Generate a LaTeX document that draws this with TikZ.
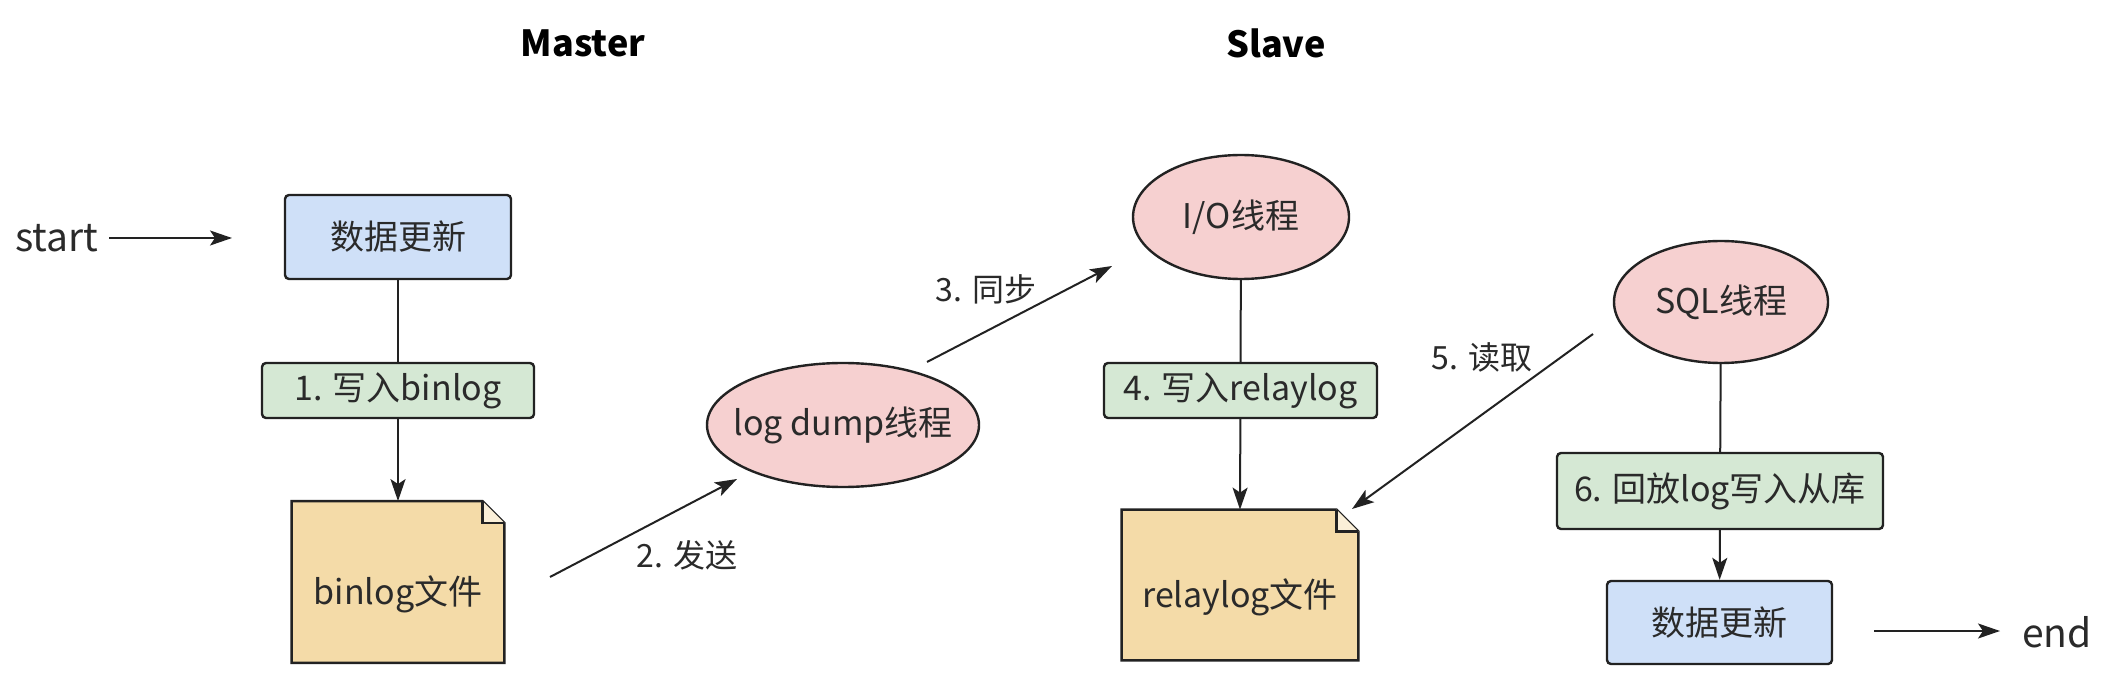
\documentclass[tikz,border=0pt]{standalone}
\usepackage{fontspec}
\setmainfont{Noto Sans CJK SC}
\usetikzlibrary{arrows.meta,shapes.geometric}
\definecolor{bluef}{HTML}{CFE0F8}
\definecolor{greenf}{HTML}{D5E8D4}
\definecolor{pinkf}{HTML}{F6D0D0}
\definecolor{docf}{HTML}{F4DBA8}
\definecolor{edge}{HTML}{222222}
\definecolor{txt}{HTML}{2A2A2A}
\tikzset{
  bluebox/.style={draw=edge, line width=1.2pt, fill=bluef, rounded corners=2pt, inner sep=0pt, font=\fontsize{17pt}{20pt}\selectfont, text=txt},
  greenbox/.style={draw=edge, line width=1.2pt, fill=greenf, rounded corners=2pt, inner sep=0pt, font=\fontsize{17pt}{20pt}\selectfont, text=txt},
  thread/.style={ellipse, draw=edge, line width=1.2pt, fill=pinkf, inner sep=0pt, font=\fontsize{17pt}{20pt}\selectfont, text=txt},
  docnode/.style={inner sep=0pt, font=\fontsize{17pt}{20pt}\selectfont, text=txt},
  docshape/.style={draw=edge, line width=1.2pt, fill=docf, line join=miter},
  lbl/.style={font=\fontsize{16pt}{19pt}\selectfont, text=txt},
  big/.style={font=\fontsize{19.5pt}{24pt}\selectfont, text=txt},
  head/.style={font=\fontsize{18pt}{22pt}\selectfont\bfseries, text=black},
  conn/.style={draw=edge, line width=1pt},
  arr/.style={conn, -{Stealth[length=11pt, width=7.5pt, inset=2.5pt]}}
}
\begin{document}
\begin{tikzpicture}[x=0.5pt, y=-0.5pt]
\useasboundingbox[fill=white] (0,0) rectangle (2114,678);

% headers
\node[head] (master) at (583,43) {Master};
\node[head] (slave) at (1276,43) {Slave};

% master side
\node[big] (startlbl) at (57,238) {start};
\coordinate (s1) at (109,238);
\coordinate (s2) at (232,238);
\node[bluebox, minimum width=113pt, minimum height=42pt] (upd1) at (398,237) {数据更新};
\node[greenbox, minimum width=136pt, minimum height=27.5pt] (w1) at (398,390.5) {1. 写入binlog};
\node[docnode, minimum width=106pt, minimum height=80.5pt] (binlog) at (398,582) {};

% log dump
\node[thread, minimum width=136pt, minimum height=62pt] (dump) at (843,425) {\makebox[0pt]{log dump线程}};

% slave side
\node[thread, minimum width=108pt, minimum height=62pt] (io) at (1241,217) {\makebox[0pt]{I/O线程}};
\node[greenbox, minimum width=136.5pt, minimum height=27.5pt] (w4) at (1240.5,390.5) {4. 写入relaylog};
\node[docnode, minimum width=118pt, minimum height=75pt] (relay) at (1240,585) {};

\node[thread, minimum width=107pt, minimum height=61pt] (sql) at (1721,302) {\makebox[0pt]{SQL线程}};
\node[greenbox, minimum width=163pt, minimum height=38pt] (w6) at (1720,491) {6. 回放log写入从库};
\node[bluebox, minimum width=112.5pt, minimum height=41.5pt] (upd2) at (1719.5,622.5) {数据更新};
\node[big] (endlbl) at (2057,632) {end};
\coordinate (e1) at (1874,631);
\coordinate (e2) at (2000,631);

% documents
\foreach \d/\t in {binlog/binlog文件, relay/relaylog文件}{
  \draw[docshape] (\d.north west) -- ([xshift=-11pt]\d.north east) -- ([yshift=-11pt]\d.north east) -- (\d.south east) -- (\d.south west) -- cycle;
  \draw[docshape, fill=docf!45!white] ([xshift=-11pt]\d.north east) -- ([xshift=-11pt,yshift=-11pt]\d.north east) -- ([yshift=-11pt]\d.north east);
  \node[docnode] at ([yshift=-6pt]\d.center) {\t};
}

% connectors
\draw[arr] (s1) -- (s2);
\draw[arr] (e1) -- (e2);
\draw[conn] (upd1) -- (w1);
\draw[arr] (w1) -- (binlog.north);
\draw[conn] (io) -- (w4);
\draw[arr] (w4) -- (relay.north);
\draw[conn] (sql) -- (w6);
\draw[arr] (w6) -- (upd2);

\coordinate (a2s) at (550,577);
\coordinate (a2e) at (737,479);
\coordinate (a3s) at (927,362);
\coordinate (a3e) at (1112,266);
\coordinate (a5s) at (1593,334);
\coordinate (a5e) at (1352,509);
\draw[arr] (a2s) -- (a2e);
\draw[arr] (a3s) -- (a3e);
\draw[arr] (a5s) -- (a5e);

\node[lbl] (l2) at (687,555) {2. 发送};
\node[lbl] (l3) at (986,289) {3. 同步};
\node[lbl] (l5) at (1482,357) {5. 读取};
\end{tikzpicture}
\end{document}
